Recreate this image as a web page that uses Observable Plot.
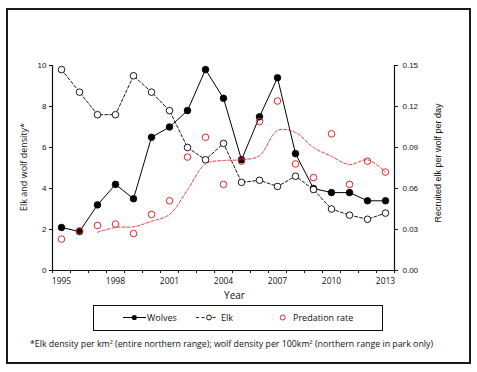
<!DOCTYPE html>
<html>
<head>
<meta charset="utf-8">
<script src="https://cdn.jsdelivr.net/npm/d3@7"></script>
<script src="https://cdn.jsdelivr.net/npm/@observablehq/plot@0.6"></script>
<style>
  html, body { margin: 0; padding: 0; background: #fff; }
  body { width: 477px; height: 372px; position: relative; overflow: hidden; }
  #frame { position: absolute; left: 6px; top: 8px; width: 465px; height: 356px; border: 2px solid #1a1a1a; box-sizing: border-box; }
  #chart { position: absolute; left: 0; top: 0; }
  #legend { position: absolute; left: 93px; top: 305px; width: 290px; height: 26px; border: 1px solid #111; box-sizing: border-box; background: #fff; }
  #legend svg { position: absolute; left: -1px; top: -1px; }
  #caption { position: absolute; left: 0; width: 463px; top: 338px; text-align: center; font-family: "Open Sans", sans-serif; font-size: 8.8px; color: #111; white-space: nowrap; }
</style>
</head>
<body>
<div id="frame"></div>
<div id="chart"></div>
<div id="legend"></div>
<div id="caption"></div>
<script>
// ---- data ----
const years = [1995, 1996, 1997, 1998, 1999, 2000, 2001, 2002, 2003, 2004, 2005, 2006, 2007, 2008, 2009, 2010, 2011, 2012, 2013];
const wolves = [2.1, 1.9, 3.2, 4.2, 3.5, 6.5, 7.0, 7.8, 9.8, 8.4, 5.4, 7.5, 9.4, 5.7, 4.0, 3.8, 3.8, 3.4, 3.4];
const elk = [9.8, 8.7, 7.6, 7.6, 9.5, 8.7, 7.8, 6.0, 5.4, 6.2, 4.3, 4.4, 4.1, 4.6, 3.95, 3.0, 2.7, 2.5, 2.8];
const predation = [0.023, 0.029, 0.033, 0.034, 0.027, 0.041, 0.051, 0.083, 0.0975, 0.063, 0.080, 0.109, 0.124, 0.078, 0.068, 0.100, 0.063, 0.080, 0.072];
const trendYears = [1997, 1998, 1999, 2000, 2001, 2002, 2003, 2004, 2005, 2006, 2007, 2008, 2009, 2010, 2011, 2012, 2013];
const trend = [0.028, 0.0315, 0.032, 0.036, 0.041, 0.059, 0.078, 0.0805, 0.081, 0.084, 0.1025, 0.101, 0.090, 0.0835, 0.0775, 0.081, 0.072];
const yearLabels = [1995, 1998, 2001, 2004, 2007, 2010, 2013];
const densityTicks = [0, 2, 4, 6, 8, 10];
const rateTicks = [0, 0.03, 0.06, 0.09, 0.12, 0.15];
const yTitle = "Elk and wolf density*";
const y2Title = "Recruited elk per wolf per day";
const xTitle = "Year";
const legendLabels = ["Wolves", "Elk", "Predation rate"];
const captionText = "*Elk density per km² (entire northern range); wolf density per 100km² (northern range in park only)";

// right axis: 0.15 recruited elk/wolf/day lines up with density 10
const rateMax = 0.15, densityMax = 10;
const toDensity = r => r / rateMax * densityMax;

const series = years.map((yr, i) => ({year: yr, wolves: wolves[i], elk: elk[i], rate: predation[i]}));
const trendData = trendYears.map((yr, i) => ({year: yr, rate: trend[i]}));
const boundaries = d3.range(years.length + 1).map(i => years[0] - 0.5 + i);

const RED = "#e3262b";
const SEGOE = "'Open Sans', 'Noto Sans', sans-serif";
const ARIAL = "'Liberation Sans', Arial, sans-serif";

const chart = Plot.plot({
  width: 477,
  height: 304,
  marginLeft: 52,
  marginRight: 83,
  marginTop: 65,
  marginBottom: 34,
  style: {background: "transparent", color: "#111", fontFamily: ARIAL},
  x: {domain: [years[0] - 0.5, years[years.length - 1] + 0.5]},
  y: {domain: [0, densityMax]},
  marks: [
    // axes
    Plot.axisX({ticks: boundaries, tickSize: 3, tickFormat: () => "", label: null, strokeWidth: 1}),
    Plot.axisX({ticks: yearLabels, tickSize: 0, tickPadding: 7, tickFormat: d => String(d), label: null, fontFamily: SEGOE, fontSize: 8.5}),
    Plot.axisY({anchor: "left", ticks: densityTicks, tickSize: 3, tickPadding: 3, label: null, fontSize: 8, fontFamily: ARIAL}),
    Plot.axisY({anchor: "right", ticks: rateTicks.map(toDensity), tickFormat: d => (d / densityMax * rateMax).toFixed(2), tickSize: 3, tickPadding: 5, label: null, fontSize: 8, fontFamily: ARIAL}),
    Plot.ruleY([0], {stroke: "#111", strokeWidth: 1.2}),
    Plot.ruleX([years[0] - 0.5], {stroke: "#111", strokeWidth: 1.2}),
    Plot.ruleX([years[years.length - 1] + 0.5], {stroke: "#111", strokeWidth: 1.2}),
    // titles
    Plot.text([xTitle], {text: d => d, frameAnchor: "bottom", textAnchor: "middle", lineAnchor: "middle", dx: 11, dy: 25, fontSize: 10, fontFamily: SEGOE}),
    Plot.text([yTitle], {text: d => d, frameAnchor: "left", textAnchor: "middle", lineAnchor: "middle", dx: -28, dy: -1, rotate: -90, fontSize: 9, fontFamily: SEGOE}),
    Plot.text([y2Title], {text: d => d, frameAnchor: "right", textAnchor: "middle", lineAnchor: "middle", dx: 43.5, dy: -5, rotate: -90, fontSize: 9, fontFamily: ARIAL}),
    // wolves
    Plot.line(series, {x: "year", y: "wolves", stroke: "#000", strokeWidth: 1}),
    Plot.dot(series, {x: "year", y: "wolves", r: 3.3, fill: "#000", stroke: "#000", strokeWidth: 0.8}),
    // elk
    Plot.line(series, {x: "year", y: "elk", stroke: "#000", strokeWidth: 0.9, strokeDasharray: "3,2"}),
    Plot.dot(series, {x: "year", y: "elk", r: 3.3, fill: "#fff", stroke: "#000", strokeWidth: 0.9}),
    // predation trend + points
    Plot.line(trendData, {x: "year", y: d => toDensity(d.rate), stroke: RED, strokeWidth: 0.9, strokeDasharray: "3,2", curve: "catmull-rom"}),
    Plot.dot(series, {x: "year", y: d => toDensity(d.rate), r: 3.3, fill: "none", stroke: RED, strokeWidth: 1})
  ]
});
document.getElementById("chart").appendChild(chart);

// legend (key for the three series)
const leg = d3.select("#legend").append("svg").attr("width", 290).attr("height", 26);
const ly = 12.5;
const ox = 93;
const g = leg.append("g").attr("font-family", SEGOE).attr("font-size", 9).attr("fill", "#111");
// wolves
g.append("line").attr("x1", 123 - ox).attr("x2", 146 - ox).attr("y1", ly).attr("y2", ly).attr("stroke", "#000").attr("stroke-width", 1);
g.append("circle").attr("cx", 134.3 - ox).attr("cy", ly).attr("r", 2.6).attr("fill", "#000");
g.append("text").attr("x", 147 - ox).attr("y", ly).attr("dy", "0.35em").text(legendLabels[0]);
// elk
g.append("line").attr("x1", 196 - ox).attr("x2", 217 - ox).attr("y1", ly).attr("y2", ly).attr("stroke", "#000").attr("stroke-width", 0.9).attr("stroke-dasharray", "3,2.5");
g.append("circle").attr("cx", 209 - ox).attr("cy", ly).attr("r", 2.4).attr("fill", "#fff").attr("stroke", "#000").attr("stroke-width", 0.9);
g.append("text").attr("x", 221 - ox).attr("y", ly).attr("dy", "0.35em").text(legendLabels[1]);
// predation
g.append("circle").attr("cx", 282.7 - ox).attr("cy", ly).attr("r", 2.5).attr("fill", "none").attr("stroke", RED).attr("stroke-width", 1);
g.append("text").attr("x", 293 - ox).attr("y", ly).attr("dy", "0.35em").text(legendLabels[2]);

document.getElementById("caption").textContent = captionText;
</script>
</body>
</html>
